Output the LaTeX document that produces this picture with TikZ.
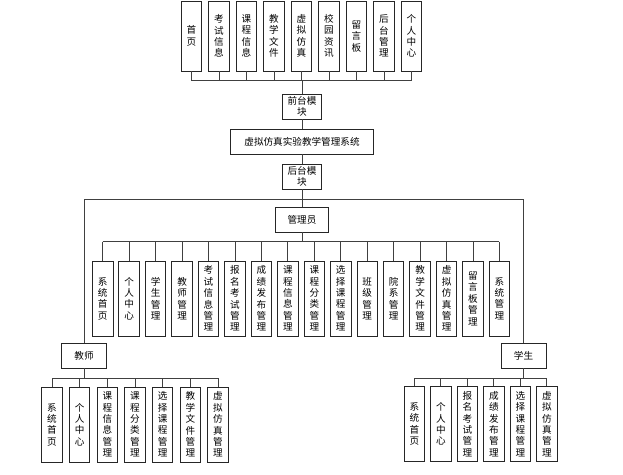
\documentclass[tikz,border=0pt]{standalone}
\usepackage{fontspec}
\newfontfamily\cjk{Noto Sans CJK SC}
\begin{document}
\begin{tikzpicture}[x=1pt,y=-1pt,
  box/.style={draw=black!85,line width=0.9pt,fill=white,inner sep=0pt,align=center,
    font=\cjk\fontsize{9.6}{11.4}\selectfont},
  vbox/.style={box,minimum width=20.5pt,minimum height=#1},
  hbox/.style={box,minimum height=25pt,minimum width=#1},
  link/.style={draw=black!75,line width=0.9pt}]
\useasboundingbox (0,0) rectangle (623,474);

% front-end pages
\foreach \t [count=\i] in {首\\页,考\\试\\信\\息,课\\程\\信\\息,教\\学\\文\\件,虚\\拟\\仿\\真,校\\园\\资\\讯,留\\言\\板,后\\台\\管\\理,个\\人\\中\\心}
  \node[vbox=70pt] (t\i) at ({191.5+27.5*(\i-1)},36) {\t};

\node[hbox=39pt] (front) at (302,106.5) {前台模\\块};
\node[hbox=143pt] (sys) at (302,141.5) {虚拟仿真实验教学管理系统};
\node[hbox=39pt] (back) at (302,176.5) {后台模\\块};
\node[hbox=53pt] (admin) at (302,219.5) {管理员};
\node[hbox=45pt] (teacher) at (84,355.5) {教师};
\node[hbox=45pt] (student) at (523.5,355.5) {学生};

% administrator functions
\foreach \t [count=\i] in {系\\统\\首\\页,个\\人\\中\\心,学\\生\\管\\理,教\\师\\管\\理,考\\试\\信\\息\\管\\理,报\\名\\考\\试\\管\\理,成\\绩\\发\\布\\管\\理,课\\程\\信\\息\\管\\理,课\\程\\分\\类\\管\\理,选\\择\\课\\程\\管\\理,班\\级\\管\\理,院\\系\\管\\理,教\\学\\文\\件\\管\\理,虚\\拟\\仿\\真\\管\\理,留\\言\\板\\管\\理,系\\统\\管\\理}
  \node[vbox=75pt] (a\i) at ({102.7+26.45*(\i-1)},298.5) {\t};

% teacher functions
\foreach \t [count=\i] in {系\\统\\首\\页,个\\人\\中\\心,课\\程\\信\\息\\管\\理,课\\程\\分\\类\\管\\理,选\\择\\课\\程\\管\\理,教\\学\\文\\件\\管\\理,虚\\拟\\仿\\真\\管\\理}
  \node[vbox=75pt] (p\i) at ({52+27.67*(\i-1)},424.5) {\t};

% student functions
\foreach \t [count=\i] in {系\\统\\首\\页,个\\人\\中\\心,报\\名\\考\\试\\管\\理,成\\绩\\发\\布\\管\\理,选\\择\\课\\程\\管\\理,虚\\拟\\仿\\真\\管\\理}
  \node[vbox=75pt] (s\i) at ({414.3+26.5*(\i-1)},424) {\t};

% bus levels
\coordinate (busT) at (0,80.5);
\coordinate (busB) at (0,199);
\coordinate (busA) at (0,241.5);
\coordinate (busP) at (0,378);

% front-end tree
\foreach \i in {1,...,9} \draw[link] (t\i.south) -- (t\i.south |- busT);
\draw[link] (t1.south |- busT) -- (t9.south |- busT);
\draw[link] (front.north |- busT) -- (front.north);
\draw[link] (front) -- (sys);
\draw[link] (sys) -- (back);

% back-end tree
\draw[link] (back.south) -- (back.south |- busB);
\draw[link] (teacher.north) -- (teacher.north |- busB) -- (student.north |- busB) -- (student.north);
\draw[link] (admin.north |- busB) -- (admin.north);

\draw[link] (admin.south) -- (admin.south |- busA);
\draw[link] (a1.north |- busA) -- (a16.north |- busA);
\foreach \i in {1,...,16} \draw[link] (a\i.north |- busA) -- (a\i.north);

\draw[link] (teacher.south) -- (teacher.south |- busP);
\draw[link] (p1.north |- busP) -- (p7.north |- busP);
\foreach \i in {1,...,7} \draw[link] (p\i.north |- busP) -- (p\i.north);

\draw[link] (student.south) -- (student.south |- busP);
\draw[link] (s1.north |- busP) -- (s6.north |- busP);
\foreach \i in {1,...,6} \draw[link] (s\i.north |- busP) -- (s\i.north);
\end{tikzpicture}
\end{document}
